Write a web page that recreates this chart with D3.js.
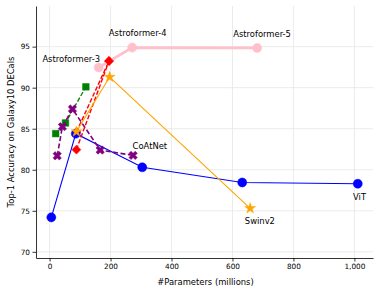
<!DOCTYPE html>
<html>
<head>
<meta charset="utf-8">
<script src="https://cdn.jsdelivr.net/npm/d3@7"></script>
<style>
  body { margin: 0; background: #fff; }
  svg text { font-family: "DejaVu Sans", sans-serif; }
</style>
</head>
<body>
<div id="chart"></div>
<script>
// data (params in millions, top-1 accuracy)
const vitParams = [5.7, 86, 304, 632, 1011];
const vitAcc = [74.2, 84.4, 80.3, 78.45, 78.3];

const swinParams = [88, 197, 658];
const swinAcc = [84.65, 91.3, 75.3];

const coatParams = [25, 42, 75, 166, 274];
const coatAcc = [81.7, 85.25, 87.4, 82.4, 81.75];

const greenParams = [20, 52, 119];
const greenAcc = [84.4, 85.7, 90.1];

const redParams = [88, 195];
const redAcc = [82.45, 93.25];
const redParams2 = [88, 195];
const redAcc2 = [84.6, 93.25];

const astroParams = [161, 271, 681];
const astroAcc = [92.45, 94.88, 94.84];

const labelText = ["Astroformer-3", "Astroformer-4", "Astroformer-5", "CoAtNet", "Swinv2", "ViT"];
const labelX = [71, 289, 697, 329, 690, 1017];
const labelY = [93.54, 96.67, 96.55, 82.95, 73.74, 76.74];

const xTicks = [0, 200, 400, 600, 800, 1000];
const yTicks = [70, 75, 80, 85, 90, 95];

const width = 380;
const height = 292;
const margin = {top: 6, right: 7, bottom: 34, left: 36};

const svg = d3.select("#chart")
    .append("svg")
    .attr("width", width)
    .attr("height", height);

const x = d3.scaleLinear()
    .domain([-44.6, 1061])
    .range([margin.left, width - margin.right]);

const y = d3.scaleLinear()
    .domain([69.25, 99.95])
    .range([height - margin.bottom, margin.top]);

// grid
svg.append("g")
    .selectAll("line")
    .data(xTicks)
    .join("line")
    .attr("x1", d => x(d)).attr("x2", d => x(d))
    .attr("y1", margin.top).attr("y2", height - margin.bottom)
    .attr("stroke", "#e6e6e6").attr("stroke-width", 0.8);

svg.append("g")
    .selectAll("line")
    .data(yTicks)
    .join("line")
    .attr("x1", margin.left).attr("x2", width - margin.right)
    .attr("y1", d => y(d)).attr("y2", d => y(d))
    .attr("stroke", "#e6e6e6").attr("stroke-width", 0.8);

// axes
const xAxis = svg.append("g")
    .attr("transform", `translate(0,${height - margin.bottom})`)
    .call(d3.axisBottom(x).tickValues(xTicks).tickSize(3.5).tickPadding(2.5).tickSizeOuter(0));

const yAxis = svg.append("g")
    .attr("transform", `translate(${margin.left},0)`)
    .call(d3.axisLeft(y).tickValues(yTicks).tickSize(3.5).tickPadding(2.5).tickSizeOuter(0));

[xAxis, yAxis].forEach(a => {
    a.select(".domain").attr("stroke", "#000").attr("stroke-width", 0.8);
    a.selectAll(".tick line").attr("stroke", "#000").attr("stroke-width", 0.8);
    a.selectAll("text").attr("font-size", 7.3).attr("fill", "#000")
        .attr("font-family", "DejaVu Sans");
});

svg.append("text")
    .attr("x", (margin.left + width - margin.right) / 2 + 1)
    .attr("y", 285)
    .attr("text-anchor", "middle")
    .attr("font-size", 8.4)
    .text("#Parameters (millions)");

svg.append("text")
    .attr("transform", `translate(13.5,${(margin.top + height - margin.bottom) / 2}) rotate(-90)`)
    .attr("text-anchor", "middle")
    .attr("font-size", 8.4)
    .text("Top-1 Accuracy on Galaxy10 DECals");

const line = d3.line().x(d => x(d[0])).y(d => y(d[1]));

function drawSeries(px, py, opts) {
    const pts = px.map((p, i) => [p, py[i]]);
    const g = svg.append("g");
    g.append("path")
        .datum(pts)
        .attr("d", line)
        .attr("fill", "none")
        .attr("stroke", opts.color)
        .attr("stroke-width", opts.lw)
        .attr("stroke-dasharray", opts.dash || null);
    if (opts.symbol) {
        g.selectAll("path.mk")
            .data(pts)
            .join("path")
            .attr("class", "mk")
            .attr("d", d3.symbol().type(opts.symbol).size(opts.size))
            .attr("transform", d => `translate(${x(d[0])},${y(d[1])}) rotate(${opts.rot || 0})`)
            .attr("fill", opts.color)
            .attr("stroke", opts.color)
            .attr("stroke-width", 0.5);
    }
}

drawSeries(redParams2, redAcc2, {color: "red", lw: 1.4, dash: "4.5,2", symbol: d3.symbolSquare, size: 40, rot: 45});
drawSeries(vitParams, vitAcc, {color: "blue", lw: 1.1, symbol: d3.symbolCircle, size: 64});
drawSeries(greenParams, greenAcc, {color: "green", lw: 1.3, dash: "4.5,2", symbol: d3.symbolSquare, size: 44});
drawSeries(coatParams, coatAcc, {color: "purple", lw: 1.6, dash: "5,2.5", symbol: d3.symbolCross, size: 44, rot: 45});
drawSeries(astroParams, astroAcc, {color: "pink", lw: 2.8, symbol: d3.symbolCircle, size: 64});
drawSeries(redParams, redAcc, {color: "red", lw: 1.4, dash: "4.5,2", symbol: d3.symbolSquare, size: 40, rot: 45});
drawSeries(swinParams, swinAcc, {color: "orange", lw: 1.1, symbol: d3.symbolStar, size: 36});

// labels
svg.append("g")
    .selectAll("text")
    .data(labelText)
    .join("text")
    .attr("x", (d, i) => x(labelX[i]))
    .attr("y", (d, i) => y(labelY[i]))
    .attr("text-anchor", "middle")
    .attr("dominant-baseline", "central")
    .attr("font-size", 8.4)
    .attr("fill", "#000")
    .text(d => d);
</script>
</body>
</html>
